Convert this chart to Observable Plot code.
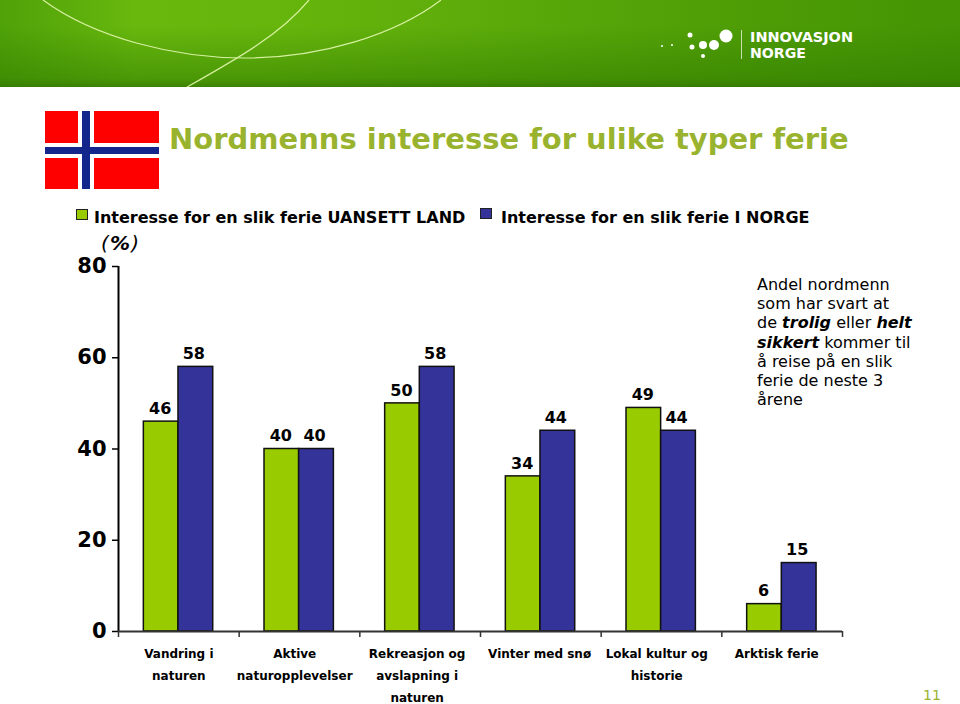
<!DOCTYPE html>
<html lang="no">
<head>
<meta charset="utf-8">
<script src="https://cdn.jsdelivr.net/npm/d3@7"></script>
<script src="https://cdn.jsdelivr.net/npm/@observablehq/plot@0.6"></script>
<style>
html,body{margin:0;padding:0;background:#fff;width:960px;height:704px;overflow:hidden;font-family:"DejaVu Sans",sans-serif}
#page{position:relative;width:960px;height:704px;overflow:hidden}
.abs{position:absolute;white-space:nowrap;color:#000}
#title{left:169px;top:120px;font-size:29px;line-height:38px;font-weight:bold;color:#9ab32f}
.legend{top:208px;font-size:16px;line-height:20px;font-weight:bold}
.swatch{position:absolute;width:10px;height:9px;border:1px solid #222}
#note{left:757px;top:275px;font-size:16px;line-height:19.2px}
#note div{height:19.2px}
#note b{font-style:italic}
#unit{left:101px;top:230px;font-size:20px;line-height:26px;font-weight:bold;font-style:italic;letter-spacing:1.2px}
#pagenr{left:923px;top:686px;font-size:14px;line-height:18px;color:#9ab32f}
#chart{position:absolute;left:0;top:240px}
#banner{position:absolute;left:0;top:0}
</style>
</head>
<body>
<div id="page">
<svg id="banner" width="960" height="90" viewBox="0 0 960 90">
  <defs>
    <linearGradient id="h" x1="0" x2="1" y1="0" y2="0">
      <stop offset="0" stop-color="#4fa208"/>
      <stop offset="0.05" stop-color="#58a90a"/>
      <stop offset="0.14" stop-color="#68b80e"/>
      <stop offset="0.3" stop-color="#66b50c"/>
      <stop offset="0.5" stop-color="#5cab0a"/>
      <stop offset="0.75" stop-color="#4f9e06"/>
      <stop offset="1" stop-color="#449404"/>
    </linearGradient>
    <linearGradient id="v" x1="0" x2="0" y1="0" y2="1">
      <stop offset="0.3" stop-color="#2f7a00" stop-opacity="0"/>
      <stop offset="0.9" stop-color="#2f7a00" stop-opacity="0.5"/>
      <stop offset="1" stop-color="#2f7000" stop-opacity="0.75"/>
    </linearGradient>
  </defs>
  <rect width="960" height="87" fill="url(#h)"/>
  <rect width="960" height="87" fill="url(#v)"/>
  <g fill="none" stroke="#d6f0a0" stroke-width="1.2">
    <path d="M43 0C95 38 175 58 245 58C320 58 395 35 441 0"/>
    <path d="M309 0C280 35 235 60 187 87"/>
  </g>
  <g fill="#fff">
    <circle cx="662" cy="46" r="1"/><circle cx="672" cy="45" r="1"/>
    <circle cx="690" cy="35" r="2.5"/><circle cx="692" cy="47" r="2.5"/><circle cx="703" cy="45" r="4"/><circle cx="714" cy="45" r="5"/><circle cx="726" cy="36" r="6.5"/><circle cx="703" cy="56" r="2"/>
    <rect x="741" y="30" width="1" height="29" opacity=".7"/>
    <text x="750" y="42" font-size="14" font-family="DejaVu Sans" font-weight="bold" textLength="103" lengthAdjust="spacingAndGlyphs">INNOVASJON</text>
    <text x="750" y="58" font-size="14" font-family="DejaVu Sans" font-weight="bold" textLength="56" lengthAdjust="spacingAndGlyphs">NORGE</text>
  </g>
</svg>
<svg class="abs" style="left:45px;top:111px" width="114" height="78" viewBox="0 0 114 78">
  <rect width="114" height="78" fill="#ff0000"/>
  <rect x="33" width="16" height="78" fill="#fff"/><rect y="32" width="114" height="15" fill="#fff"/>
  <rect x="37" width="8" height="78" fill="#13268c"/><rect y="36" width="114" height="7" fill="#13268c"/>
</svg>
<div class="abs" id="title">Nordmenns interesse for ulike typer ferie</div>
<div class="swatch" style="left:76px;top:209px;background:#99cc00"></div>
<div class="abs legend" style="left:94px">Interesse for en slik ferie UANSETT LAND</div>
<div class="swatch" style="left:480px;top:208px;background:#333399"></div>
<div class="abs legend" style="left:501px">Interesse for en slik ferie I NORGE</div>
<div id="chart"></div>
<div class="abs" id="unit"><span style="font-weight:normal">(</span><span>%</span><span style="font-weight:normal">)</span></div>
<div class="abs" id="note">
<div><span>Andel nordmenn</span></div>
<div><span>som har svart at</span></div>
<div><span>de </span><b>trolig</b><span> eller </span><b>helt</b></div>
<div><b>sikkert</b><span> kommer til</span></div>
<div><span>å reise på en slik</span></div>
<div><span>ferie de neste 3</span></div>
<div><span>årene</span></div>
</div>
<div class="abs" id="pagenr">11</div>
</div>
<script>
const categories = ["Vandring i\nnaturen","Aktive\nnaturopplevelser","Rekreasjon og\navslapning i\nnaturen","Vinter med snø","Lokal kultur og\nhistorie","Arktisk ferie"];
const uansettLand = [46,40,50,34,49,6];
const iNorge = [58,40,58,44,44,15];
const colorUansett = "#99cc00";
const colorNorge = "#333399";
const yTicks = [0,20,40,60,80];
const boundaries = categories.map((_,i)=>i).concat(categories.length);

const left = .21, mid = .497, right = .785;
const labelShift = [0,-.04,-.025,-.01,-.04,-.045];
const at = (v,i) => ({i,v});
const greenBars = uansettLand.map(at);
const blueBars = iNorge.map(at);
const labels = categories.map((c,i)=>({c,i}));

const plot = Plot.plot({
  width:960, height:464,
  marginLeft:118, marginRight:118, marginTop:26, marginBottom:73,
  style:{fontFamily:"'DejaVu Sans',sans-serif",background:"transparent",overflow:"visible",color:"#000"},
  x:{type:"linear",domain:[0,categories.length],axis:null},
  y:{domain:[0,80],axis:null},
  marks:[
    Plot.rect(greenBars,{x1:d=>d.i+left,x2:d=>d.i+mid,y1:()=>0,y2:"v",fill:colorUansett,stroke:"#111",strokeWidth:1.5}),
    Plot.rect(blueBars,{x1:d=>d.i+mid,x2:d=>d.i+right,y1:()=>0,y2:"v",fill:colorNorge,stroke:"#111",strokeWidth:1.5}),
    Plot.text(greenBars,{x:d=>d.i+(left+mid)/2,y:"v",text:d=>String(d.v),dy:-13,dx:-1,fontSize:16,fontWeight:"bold",fill:"#000"}),
    Plot.text(blueBars,{x:d=>d.i+(mid+right)/2,y:"v",text:d=>String(d.v),dy:-13,dx:-2,fontSize:16,fontWeight:"bold",fill:"#000"}),
    Plot.ruleX([0],{y1:()=>0,y2:()=>80,stroke:"#000",strokeWidth:2}),
    Plot.ruleY([0],{x1:()=>0,x2:()=>categories.length,stroke:"#333",strokeWidth:2}),
    Plot.axisY({ticks:yTicks,label:null,tickSize:6,tickPadding:6,fontSize:21,fontWeight:"bold",stroke:"#000",strokeWidth:1.5,tickFormat:d=>String(d)}),
    Plot.axisX({ticks:boundaries,label:null,tickSize:6,tickFormat:()=>"",stroke:"#333",strokeWidth:1.5}),
    Plot.text(labels,{x:d=>d.i+.5+labelShift[d.i],y:()=>0,text:"c",dy:11,lineAnchor:"top",lineHeight:1.83,fontSize:12,fontWeight:"bold",fill:"#000"})
  ]
});
document.getElementById("chart").appendChild(plot);
</script>
</body>
</html>
